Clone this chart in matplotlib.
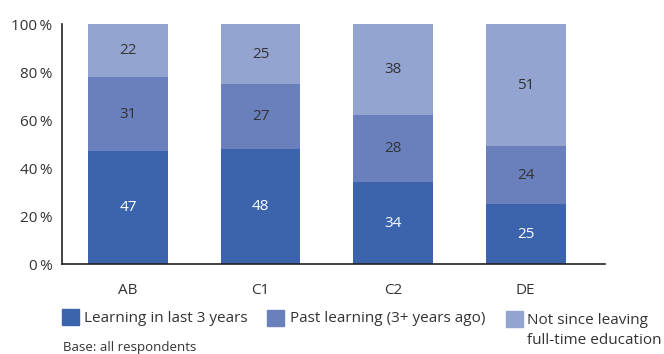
import matplotlib.pyplot as plt
from matplotlib.patches import Rectangle

plt.rcParams['font.family'] = ['Open Sans', 'DejaVu Sans']

groups = ['AB', 'C1', 'C2', 'DE']
recent = [47, 48, 34, 25]
past = [31, 27, 28, 24]
never = [22, 25, 38, 51]
yticks = [0, 20, 40, 60, 80, 100]

series_names = ['Learning in last 3 years', 'Past learning (3+ years ago)',
                'Not since leaving\nfull-time education']
colors = ['#3b64ad', '#6a80bd', '#94a4d0']
text_colors = ['white', '#333333', '#333333']
dark = '#333333'

fig = plt.figure(figsize=(6.64, 3.54), dpi=100)
ax = fig.add_axes([62 / 664, 90 / 354, (605 - 62) / 664, 240 / 354])

x = list(range(len(groups)))
bottom = [0] * len(groups)
for vals, col, tcol in zip([recent, past, never], colors, text_colors):
    ax.bar(x, vals, width=0.60, bottom=bottom, color=col, edgecolor='none')
    for xi, b, v in zip(x, bottom, vals):
        ax.text(xi, b + v / 2, str(v), ha='center', va='center',
                fontsize=11, color=tcol)
    bottom = [b + v for b, v in zip(bottom, vals)]

ax.set_xlim(-0.499, 3.598)
ax.set_ylim(0, 100)
ax.set_yticks(yticks)
ax.set_yticklabels([f'{t}\u2009%' for t in yticks])
ax.set_xticks(x)
ax.set_xticklabels(groups)
ax.tick_params(axis='y', length=0, pad=7, labelsize=11, labelcolor=dark)
ax.tick_params(axis='x', length=0, pad=13.5, labelsize=11, labelcolor=dark)

for side in ['top', 'right']:
    ax.spines[side].set_visible(False)
for side in ['left', 'bottom']:
    ax.spines[side].set_color('#222222')
    ax.spines[side].set_linewidth(1.2)

# legend built by hand in pixel positions
W, H = 664, 354
legend_items = [(62, 309, 84), (267, 310, 290), (506, 311, 527)]
for (sx, sy, tx), name, col in zip(legend_items, series_names, colors):
    fig.patches.append(Rectangle((sx / W, 1 - (sy + 16) / H), 17 / W, 16 / H,
                                 transform=fig.transFigure, color=col))
    for i, line in enumerate(name.split('\n')):
        fig.text(tx / W, 1 - (sy + 9 + 21 * i) / H, line, ha='left',
                 va='center', fontsize=11, color=dark)

fig.text(63 / W, 1 - 347 / H, 'Base: all respondents', ha='left',
         va='center', fontsize=9.5, color=dark)

fig.savefig('out.png', dpi=100)
